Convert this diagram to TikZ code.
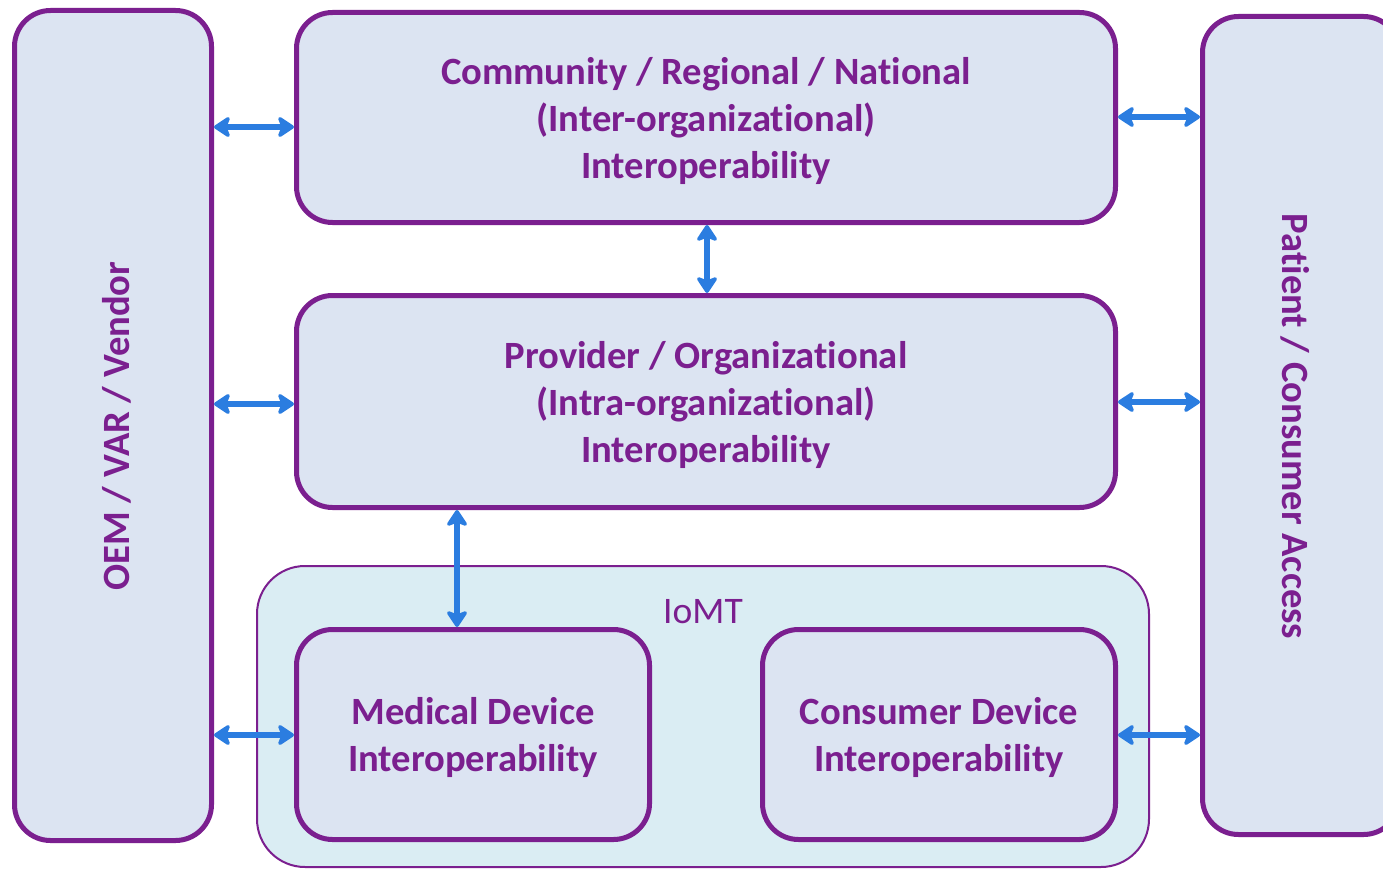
\documentclass[tikz,border=0pt]{standalone}
\usepackage{fontspec}
\setmainfont{Carlito}[Ligatures={NoCommon}]
\usetikzlibrary{arrows.meta}
\definecolor{purp}{HTML}{7B1F8F}
\definecolor{boxfill}{HTML}{DCE4F2}
\definecolor{iomtfill}{HTML}{DAEDF3}
\definecolor{arrblue}{HTML}{2B7DE0}
\tikzset{
  mainbox/.style={draw=purp, line width=5pt, fill=boxfill, rounded corners=36pt,
    rectangle, inner sep=0pt},
  boxtext/.style={text=purp, align=center, inner sep=0pt,
    font=\fontsize{38.6}{47}\selectfont\bfseries},
  groupbox/.style={draw=purp, line width=2pt, fill=iomtfill, rounded corners=48pt,
    rectangle, inner sep=0pt},
  biarrow/.style={draw=arrblue, line width=6pt,
    {Stealth[round, length=19pt, width=25pt, inset=5pt]}-{Stealth[round, length=19pt, width=25pt, inset=5pt]}},
}
\begin{document}
\begin{tikzpicture}[x=1pt, y=-1pt]
\useasboundingbox (0,0) rectangle (1383,869);
\clip (0,0) rectangle (1383,869);
\fill[white] (0,0) rectangle (1383,869);
% IoMT group
\node[groupbox, minimum width=892pt, minimum height=301pt] (iomt) at (703,716.5) {};
\node[text=purp, font=\fontsize{37.5}{44}\selectfont] (iomtlabel) at (703,612) {IoMT};
% side boxes
\node[mainbox, minimum width=197pt, minimum height=830pt] (oem) at (113,425.5) {};
\node[boxtext, rotate=90] (oemtext) at (117,426) {OEM / VAR / Vendor};
\node[mainbox, minimum width=197pt, minimum height=818pt] (pca) at (1301,425.5) {};
\node[boxtext, rotate=-90] (pcatext) at (1295,426.5) {Patient / Consumer Access};
% central boxes
\node[mainbox, minimum width=819pt, minimum height=210pt] (top) at (706,117.5) {};
\node[boxtext] (toptext) at ([yshift=-3pt]top.center)
  {Community / Regional / National\\(Inter-organizational)\\Interoperability};
\node[mainbox, minimum width=819pt, minimum height=212pt] (mid) at (706,401.5) {};
\node[boxtext] (midtext) at ([yshift=-3pt]mid.center)
  {Provider / Organizational\\(Intra-organizational)\\Interoperability};
\node[mainbox, minimum width=353pt, minimum height=210pt] (med) at (473,734.5) {};
\node[boxtext] (medtext) at ([yshift=-3pt]med.center)
  {Medical Device\\Interoperability};
\node[mainbox, minimum width=353pt, minimum height=210pt] (cons) at (939,734.5) {};
\node[boxtext] (constext) at ([yshift=-3pt]cons.center)
  {Consumer Device\\Interoperability};
% arrows
\draw[biarrow] (oem.east |- 0,127) -- (top.west |- 0,127);
\draw[biarrow] (oem.east |- 0,404) -- (mid.west |- 0,404);
\draw[biarrow] (oem.east |- 0,735) -- (med.west |- 0,735);
\draw[biarrow] (top.east |- 0,117) -- (pca.west |- 0,117);
\draw[biarrow] (mid.east |- 0,402) -- (pca.west |- 0,402);
\draw[biarrow] (cons.east |- 0,735) -- (pca.west |- 0,735);
\draw[biarrow] (top.south -| 707,0) -- (mid.north -| 707,0);
\draw[biarrow] (mid.south -| 457,0) -- (med.north -| 457,0);
\end{tikzpicture}
\end{document}
